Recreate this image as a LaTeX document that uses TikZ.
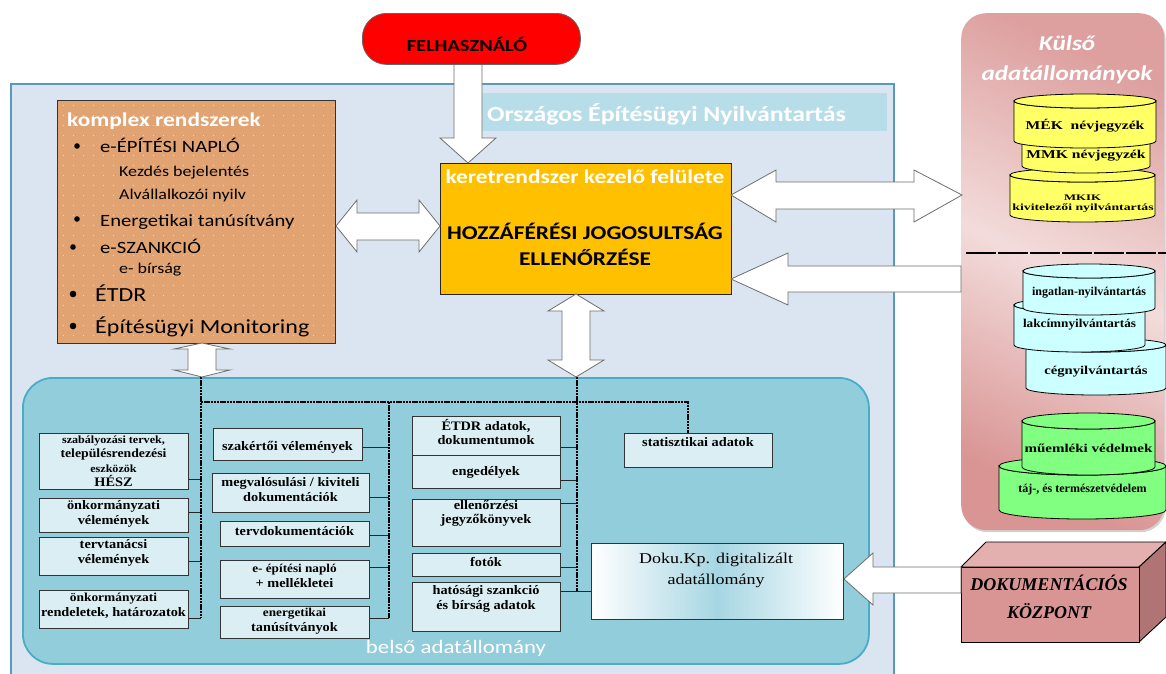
\documentclass[tikz,border=0pt]{standalone}
\usepackage{fontspec}
\usepackage{graphicx}
\setmainfont{Liberation Serif}
\newfontfamily\calfont[FakeStretch=1.2]{Carlito}
\newfontfamily\boxfont[FakeStretch=1.1]{Liberation Serif}
\newfontfamily\wideserif[FakeStretch=1.2]{Liberation Serif}
\usetikzlibrary{shadows}
\definecolor{mainbg}{HTML}{DBE5F1}
\definecolor{mainbd}{HTML}{5A9AB4}
\definecolor{banner}{HTML}{B7DEE8}
\definecolor{innerbg}{HTML}{92CDDC}
\definecolor{innerbd}{HTML}{4BACC6}
\definecolor{boxbg}{HTML}{DAEEF3}
\definecolor{kombg}{HTML}{E2A372}
\definecolor{kerbg}{HTML}{FFC000}
\definecolor{felred}{HTML}{FF0000}
\definecolor{cylY}{HTML}{FFFF66}
\definecolor{cylC}{HTML}{CCFFFF}
\definecolor{cylG}{HTML}{80FF80}
\definecolor{extA}{HTML}{F2DCDB}
\definecolor{extB}{HTML}{D99594}
\definecolor{dokF}{HTML}{D99594}
\definecolor{dokT}{HTML}{E4B0AF}
\definecolor{dokS}{HTML}{B07474}
\definecolor{arrbd}{HTML}{6E6E6E}
\definecolor{dokuC}{HTML}{A6D6E3}
\tikzset{
  barrow/.style={fill=white, draw=arrbd, line width=0.8pt, line join=miter},
  box/.style={draw=black!80, fill=boxbg, line width=0.9pt, inner sep=0pt, anchor=north west},
  btext/.style={font=\boxfont\bfseries\fontsize{13}{14.5}\selectfont, align=center, inner sep=0pt},
  link/.style={draw=black!85, line width=0.9pt},
  bus/.style={draw=black, line width=2.3pt, dash pattern=on 2.3pt off 0.9pt},
  cylst/.style={draw=black, line width=0.8pt},
  ctext/.style={font=\bfseries\fontsize{12}{13}\selectfont, align=center, inner sep=0pt},
  ktext/.style={font=\calfont\fontsize{17.2}{18}\selectfont, anchor=base west, inner sep=0pt},
  ksmall/.style={font=\calfont\fontsize{15}{16}\selectfont, anchor=base west, inner sep=0pt},
  kbig/.style={font=\calfont\fontsize{20}{22}\selectfont, anchor=base west, inner sep=0pt},
}
\newcommand\bx[7]{%
  \node[box, minimum width={#4-#2}, minimum height={#5-#3}] (#1) at (#2,#3) {};
  \node[btext] (#1t) at ({(#2+#4)/2},#6) {#7};}
\newcommand\cyl[9]{%
  \pgfmathsetmacro\rx{(#3-#2)/2}%
  \pgfmathsetmacro\cx{(#3+#2)/2}%
  \path[cylst, fill=#7] (#2,#4) -- (#2,#5) arc[start angle=180, end angle=0, x radius=\rx, y radius=#6] -- (#3,#4) arc[start angle=0, end angle=180, x radius=\rx, y radius=#6] -- cycle;
  \path[cylst, fill=#7] (\cx,#4) ellipse[x radius=\rx, y radius=#6];
  \node[ctext] (#1) at (\cx,#8) {#9};}
\begin{document}
\begin{tikzpicture}[x=1pt,y=-1pt]
\useasboundingbox (0,0) rectangle (1166,673);
\fill[white] (0,0) rectangle (1166,673);

% main area
\node[draw=mainbd, fill=mainbg, line width=1.5pt, minimum width=883, minimum height=610, anchor=north west, inner sep=0pt] (oen) at (10,83) {};
\node[fill=banner, minimum width=407, minimum height=38, anchor=north west, inner sep=0pt] (ban) at (480,93) {};
\node[font=\calfont\bfseries\fontsize{21.5}{22}\selectfont, text=white, anchor=base west, inner sep=0pt] (bant) at (487,121) {Országos Építésügyi Nyilvántartás};

% komplex rendszerek
\node[draw=black!80, fill=kombg, line width=0.8pt, minimum width=278, minimum height=243, anchor=north west, inner sep=0pt] (kom) at (57,100) {};
\foreach \xx in {63,73,...,333} \foreach \yy in {105,115,...,340} \fill[white, opacity=0.55] (\xx,\yy) rectangle ++(1.2,1.2);
\node[font=\calfont\bfseries\fontsize{19.5}{20}\selectfont, text=white, anchor=base west, inner sep=0pt] (k0) at (67,126) {komplex rendszerek};
\fill (77,146) circle (2.8);
\node[ktext] (k1) at (100,152) {e-ÉPÍTÉSI NAPLÓ};
\node[ksmall] (k2) at (119,176) {Kezdés bejelentés};
\node[ksmall] (k3) at (119,199) {Alvállalkozói nyilv};
\fill (77,219) circle (2.8);
\node[ktext] (k4) at (100,226) {Energetikai tanúsítvány};
\fill (73,247) circle (2.8);
\node[ktext] (k5) at (100,253) {e-SZANKCIÓ};
\node[ksmall] (k6) at (119,273) {e- bírság};
\fill (73,294) circle (3.3);
\node[kbig] (k7) at (95,301) {ÉTDR};
\fill (73,326) circle (3.3);
\node[kbig] (k8) at (95,333) {Építésügyi Monitoring};

% keretrendszer
\node[draw=black!85, fill=kerbg, line width=0.9pt, minimum width=291, minimum height=131, anchor=north west, inner sep=0pt] (ker) at (440,163) {};
\node[font=\calfont\bfseries\fontsize{19.5}{21}\selectfont, text=white, anchor=base, inner sep=0pt] (ker0) at (585,183) {keretrendszer kezelő felülete};
\node[font=\calfont\bfseries\fontsize{19.5}{21}\selectfont, anchor=base, inner sep=0pt] (ker1) at (585,239) {HOZZÁFÉRÉSI JOGOSULTSÁG};
\node[font=\calfont\bfseries\fontsize{19.5}{21}\selectfont, anchor=base, inner sep=0pt] (ker2) at (585,265) {ELLENŐRZÉSE};

% arrow user -> ker
\draw[barrow] (454,40) -- (454,138) -- (440,138) -- (468,163) -- (496,138) -- (482,138) -- (482,40) -- cycle;
% user
\node[draw=black!60, fill=felred, rounded corners=24, line width=0.8pt, minimum width=218, minimum height=51, anchor=north west, inner sep=0pt] (fel) at (362,13) {};
\node[font=\calfont\bfseries\fontsize{17}{19}\selectfont, anchor=base, inner sep=0pt] (felt) at (467,51) {FELHASZNÁLÓ};

% komplex <-> ker
\draw[barrow] (336,226) -- (357,200) -- (357,213) -- (419,213) -- (419,200) -- (440,226) -- (419,252) -- (419,240) -- (357,240) -- (357,252) -- cycle;

% external box
\node[rounded corners=25, minimum width=203, minimum height=517, anchor=north west, inner sep=0pt,
  shading=axis, top color=extB!85!extA, bottom color=extB, middle color=extA, shading angle=-25,
  drop shadow={shadow xshift=1.5pt, shadow yshift=-2pt, opacity=0.35}] (ext) at (961,13) {};
\node[font=\calfont\bfseries\itshape\fontsize{21}{22}\selectfont, text=white, anchor=base, inner sep=0pt] (ext1) at (1067,50) {Külső};
\node[font=\calfont\bfseries\itshape\fontsize{21}{22}\selectfont, text=white, anchor=base, inner sep=0pt] (ext2) at (1067,80) {adatállományok};
\draw[black, line width=1.3pt, dash pattern=on 30pt off 2pt] (966,253) -- (1166,253);

% yellow cylinders
\cyl{mkik}{1010}{1155}{175}{215}{7}{cylY}{198}{\scalebox{1.5}[1]{\fontsize{8.5}{9}\selectfont MKIK}}
\node[ctext] (mkik2) at (1083,208.5) {\scalebox{1.45}[1]{\fontsize{9.5}{10}\selectfont kivitelezői nyilvántartás}};
\cyl{mmk}{1022}{1150}{140}{166}{7}{cylY}{156}{\scalebox{1.3}[1]{MMK névjegyzék}}
\cyl{mek}{1014}{1156}{101}{141}{7}{cylY}{126}{\scalebox{1.3}[1]{MÉK\ \ névjegyzék}}
% cyan cylinders
\cyl{ceg}{1026}{1166}{345}{388}{7}{cylC}{372}{\scalebox{1.22}[1]{cégnyilvántartás}}
\cyl{lak}{1014}{1145}{305}{345}{7}{cylC}{325}{\scalebox{1.1}[1]{lakcímnyilvántartás}}
\cyl{ing}{1023}{1155}{271}{308}{7}{cylC}{293}{ingatlan-nyilvántartás}
% green cylinders
\cyl{taj}{999}{1166}{466}{510}{9}{cylG}{490}{táj-, és természetvédelem}
\cyl{mue}{1022}{1155}{421}{467}{8}{cylG}{448}{\scalebox{1.25}[1]{műemléki védelmek}}

% ker <-> ext
\draw[barrow] (731,195) -- (776,170) -- (776,182) -- (914,182) -- (914,170) -- (962,195) -- (914,222) -- (914,209) -- (776,209) -- (776,222) -- cycle;
% ext -> ker
\draw[barrow] (731,279) -- (788,253) -- (788,266) -- (961,266) -- (961,292) -- (788,292) -- (788,305) -- cycle;

% inner data store
\node[draw=innerbd, fill=innerbg, line width=1.8pt, rounded corners=30, minimum width=846, minimum height=286, anchor=north west, inner sep=0pt] (bel) at (22,377) {};
\node[font=\calfont\fontsize{19}{20}\selectfont, text=white, anchor=base, inner sep=0pt] (belt) at (456,653) {belső adatállomány};

% left column
\bx{b1}{39}{433}{188}{489}{461}{\fontsize{11}{13.3}\selectfont szabályozási tervek,\\\fontsize{12.5}{13.3}\selectfont településrendezési\\\fontsize{11}{13.3}\selectfont eszközök\\HÉSZ}
\bx{b2}{39}{498}{188}{532}{514}{önkormányzati\\vélemények}
\bx{b3}{39}{537}{188}{575}{553}{tervtanácsi\\vélemények}
\bx{b4}{39}{590}{188}{628}{606}{\fontsize{12.2}{15}\selectfont önkormányzati\\rendeletek, határozatok}
% middle column
\bx{m1}{213}{428}{362}{460}{447}{szakértői vélemények}
\bx{m2}{212}{473}{369}{512}{489.5}{megvalósulási / kiviteli\\dokumentációk}
\bx{m3}{220}{521}{369}{546}{531}{tervdokumentációk}
\bx{m4}{220}{560}{369}{598}{576}{\fontsize{12}{13}\selectfont e- építési napló\\+ mellékletei}
\bx{m5}{220}{606}{369}{638}{621}{\fontsize{12}{14}\selectfont energetikai\\tanúsítványok}
% third column
\bx{t1}{412}{416}{560}{455}{432}{ÉTDR adatok,\\dokumentumok}
\bx{t2}{412}{455}{560}{488}{472}{engedélyek}
\bx{t3}{412}{499}{560}{546}{513.5}{ellenőrzési\\jegyzőkönyvek}
\bx{t4}{412}{553}{560}{576}{562}{fotók}
\bx{t5}{412}{582}{560}{631}{599}{hatósági szankció\\és bírság adatok}
\bx{st}{624}{433}{772}{467}{442}{statisztikai adatok}

% Doku box
\node[draw=black!80, line width=0.9pt, minimum width=252, minimum height=76, anchor=north west, inner sep=0pt,
  shading=axis, left color=white, right color=white, middle color=dokuC] (doku) at (591,543) {};
\node[font=\wideserif\fontsize{15}{21}\selectfont, inner sep=0pt, anchor=base] (dokut1) at (716,563) {Doku.Kp. digitalizált};
\node[font=\wideserif\fontsize{15}{21}\selectfont, inner sep=0pt, anchor=base] (dokut2) at (716,584) {adatállomány};

% bus coordinates
\coordinate (busA) at (201,377);
\coordinate (busB) at (389,402);
\coordinate (busC) at (577,377);
\coordinate (busS) at (688,402);

% solid links
\foreach \n/\yy in {b1/479,b2/512,b3/561,b4/618} \draw[link] (\n.east |- 0,\yy) -- (busA |- 0,\yy);
\foreach \n/\yy in {m1/447,m2/497,m3/535,m4/567,m5/618} \draw[link] (\n.east |- 0,\yy) -- (busB |- 0,\yy);
\foreach \n/\yy in {t1/447,t2/480,t3/503,t4/567} \draw[link] (\n.east |- 0,\yy) -- (busC |- 0,\yy);
\draw[link] (t5.east |- 0,591) -- (doku.west |- 0,591);

% dotted buses
\draw[bus] (busA) -- (busA |- 0,618);
\draw[bus] (busA |- busB) -- (busS) -- (st.north -| busS);
\draw[bus] (busB) -- (busB |- 0,618);
\draw[bus] (busC) -- (busC |- 0,591);

% komplex <-> inner
\draw[barrow] (202,343) -- (230,349) -- (216,349) -- (216,370) -- (230,370) -- (202,377) -- (174,370) -- (188,370) -- (188,349) -- (174,349) -- cycle;
% ker <-> inner
\draw[barrow] (576,294) -- (604,311) -- (590,311) -- (590,360) -- (604,360) -- (576,377) -- (548,360) -- (562,360) -- (562,311) -- (548,311) -- cycle;

% Dokumentációs központ
\fill[dokT, draw=black, line width=0.9pt] (961,567) -- (986,542) -- (1166,542) -- (1139,567) -- cycle;
\fill[dokS, draw=black, line width=0.9pt] (1139,567) -- (1166,542) -- (1166,617) -- (1139,642) -- cycle;
\node[draw=black, fill=dokF, line width=0.9pt, minimum width=178, minimum height=75, anchor=north west, inner sep=0pt] (dok) at (961,567) {};
\node[font=\bfseries\itshape\fontsize{18}{28}\selectfont, inner sep=0pt, anchor=base] (dokt1) at (1049,590) {DOKUMENTÁCIÓS};
\node[font=\bfseries\itshape\fontsize{18}{28}\selectfont, inner sep=0pt, anchor=base] (dokt2) at (1049,618) {KÖZPONT};
% dok -> doku
\draw[barrow] (doku.east |- 0,579) -- (873,553) -- (873,567) -- (dok.west |- 0,567) -- (dok.west |- 0,593) -- (873,593) -- (873,605) -- cycle;
\end{tikzpicture}
\end{document}
